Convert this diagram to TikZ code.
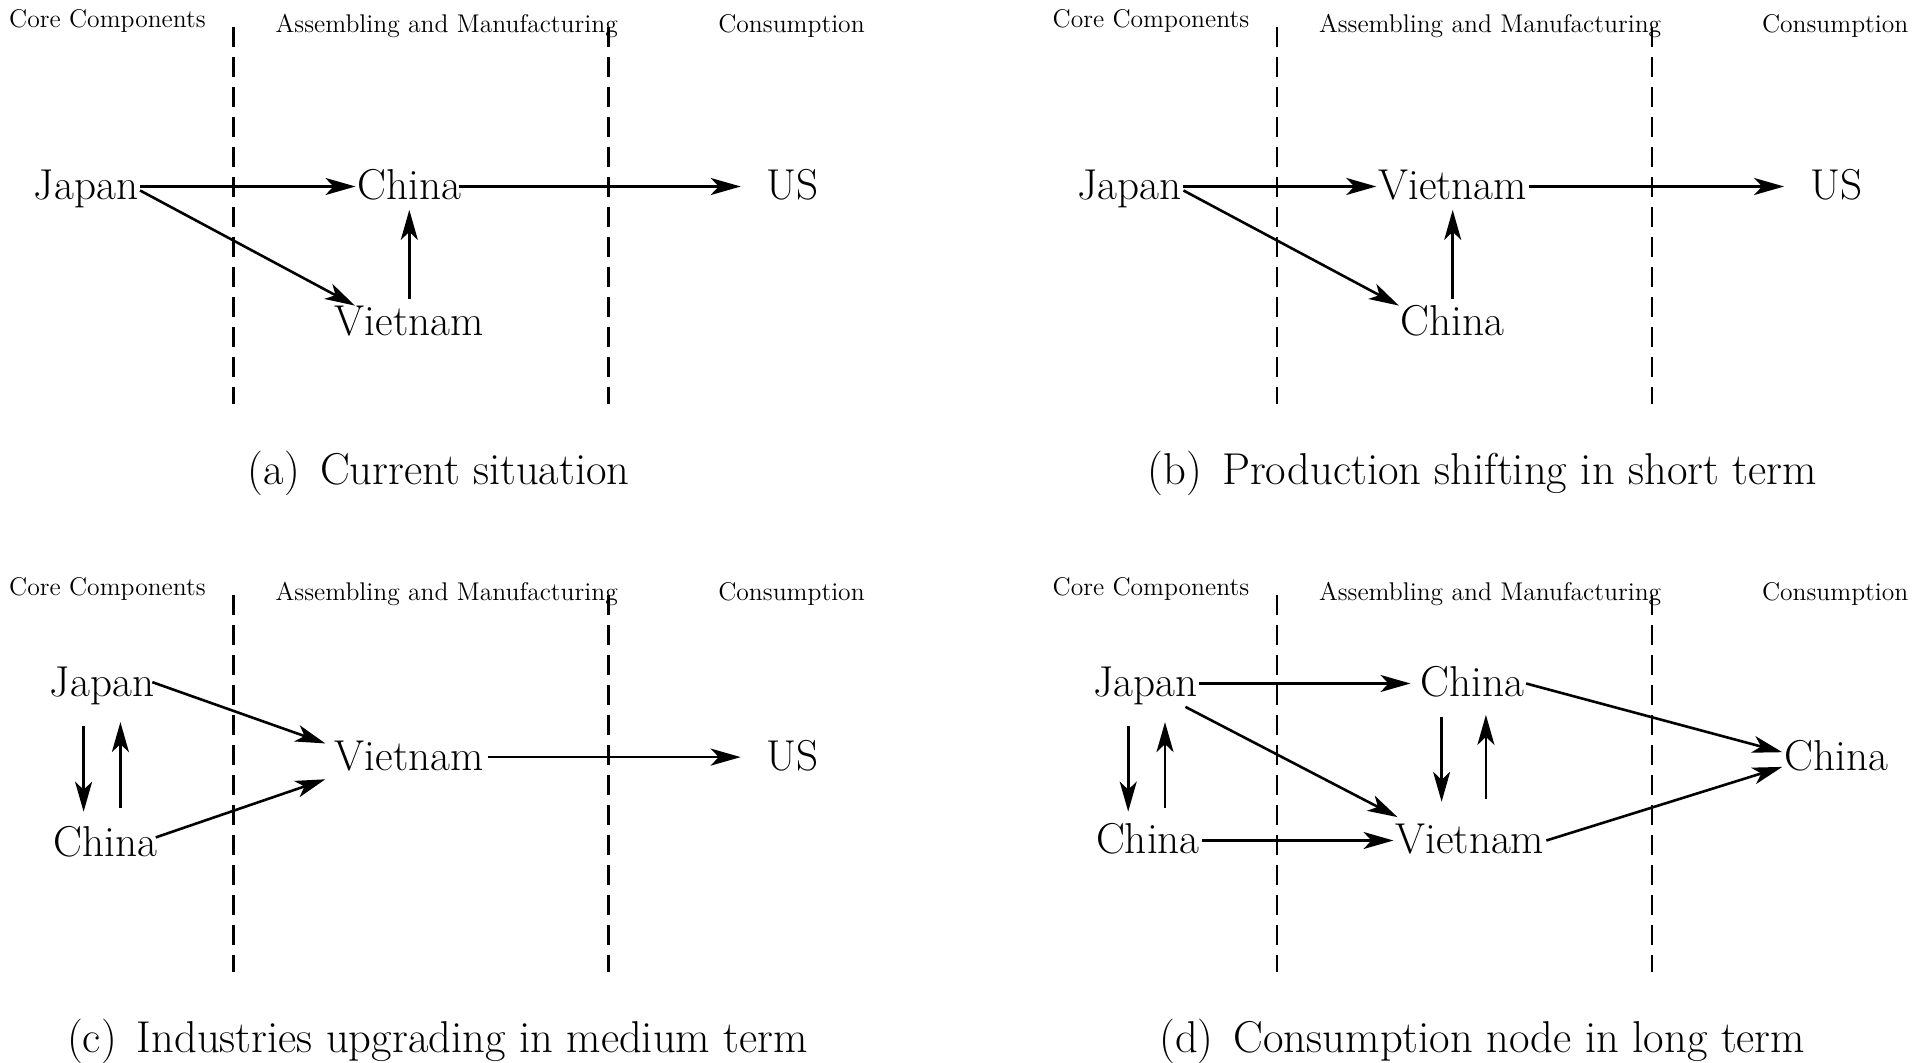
\documentclass[tikz,border=0pt]{standalone}
\usetikzlibrary{arrows.meta}
\tikzset{
  country/.style={font=\fontsize{21.6}{26}\selectfont, inner sep=0pt, outer sep=1pt, text height=17.4pt, text depth=4pt},
  hdr/.style={font=\fontsize{12.8}{15}\selectfont, inner sep=0pt},
  capt/.style={font=\fontsize{22.3}{26}\selectfont, inner sep=0pt},
  divider/.style={dash pattern=on 10pt off 5pt, line width=1.3pt},
  arr/.style={-{Stealth[length=15pt,width=8.5pt,inset=4pt]}, line width=1.3pt},
}
\begin{document}
\begin{tikzpicture}[x=0.5pt,y=-0.5pt]
\useasboundingbox (0,-2.5) rectangle (1927,1060.5);

% ---------- panel (a)
\node[hdr] (ha1) at (107.5,18.4) {Core Components};
\node[hdr] (ha2) at (446.7,23.4) {Assembling and Manufacturing};
\node[hdr] (ha3) at (791.5,23.4) {Consumption};
\draw[divider] (233.5,25) -- (233.5,402);
\draw[divider] (608.5,25) -- (608.5,402);
\node[country] (Ja) at (86,184) {Japan};
\node[country] (Ca) at (409.3,184) {China};
\node[country] (Ua) at (792.7,184) {US};
\node[country] (Va) at (409.3,319.5) {Vietnam};
\node[capt] (capa) at (438.8,470.7) {(a)\hspace{0.45em}Current situation};
\draw[arr] (Ja.east) -- (Ca.west);
\draw[arr,shorten <=-2pt,shorten >=12pt] (Ca.east) -- (Ua.west);
\draw[arr] ([yshift=-2pt]Ja.east) -- ([xshift=11pt,yshift=-3.5pt]Va.north west);
\draw[arr] (Va.north) -- (Ca.south);

% ---------- panel (b)
\node[hdr] (hb1) at (1150.9,18.4) {Core Components};
\node[hdr] (hb2) at (1490.1,23.4) {Assembling and Manufacturing};
\node[hdr] (hb3) at (1835.2,23.4) {Consumption};
\draw[divider] (1277,25) -- (1277,402);
\draw[divider] (1652,25) -- (1652,402);
\node[country] (Jb) at (1129.4,184) {Japan};
\node[country] (Vb) at (1452.7,184) {Vietnam};
\node[country] (Ub) at (1836.1,184) {US};
\node[country] (Cb) at (1452.7,319.5) {China};
\node[capt] (capb) at (1482.2,470.7) {(b)\hspace{0.45em}Production shifting in short term};
\draw[arr] (Jb.east) -- (Vb.west);
\draw[arr,shorten >=12pt] (Vb.east) -- (Ub.west);
\draw[arr] ([yshift=-2pt]Jb.east) -- ([xshift=0pt,yshift=-3.5pt]Cb.north west);
\draw[arr] (Cb.north) -- (Vb.south);

% ---------- panel (c)
\node[hdr] (hc1) at (107.5,586.2) {Core Components};
\node[hdr] (hc2) at (446.7,591.2) {Assembling and Manufacturing};
\node[hdr] (hc3) at (791.5,591.2) {Consumption};
\draw[divider] (233.5,592.8) -- (233.5,969.8);
\draw[divider] (608.5,592.8) -- (608.5,969.8);
\node[country] (Jc) at (102,681) {Japan};
\node[country] (Cc) at (105.7,840.6) {China};
\node[country] (Vc) at (409.3,754.6) {Vietnam};
\node[country] (Uc) at (792.7,754.6) {US};
\node[capt] (capc) at (437.5,1039) {(c)\hspace{0.45em}Industries upgrading in medium term};
\draw[arr,shorten <=-2pt,shorten >=4pt] (Jc.east) -- ([yshift=5.5pt]Vc.west);
\draw[arr,shorten <=-2pt,shorten >=4pt] ([yshift=3.5pt]Cc.east) -- ([yshift=-9.8pt]Vc.west);
\draw[arr,shorten <=1pt,shorten >=12pt] (Vc.east) -- (Uc.west);
\draw[arr,shorten <=9.5pt,shorten >=4pt] ([xshift=-9.2pt]Jc.south) -- ([xshift=-9.2pt]Jc.south |- Cc.north);
\draw[arr,shorten <=5.9pt,shorten >=7.6pt] ([xshift=9.2pt]Jc.south |- Cc.north) -- ([xshift=9.2pt]Jc.south);

% ---------- panel (d)
\node[hdr] (hd1) at (1150.9,586.2) {Core Components};
\node[hdr] (hd2) at (1490.1,591.2) {Assembling and Manufacturing};
\node[hdr] (hd3) at (1835.2,591.2) {Consumption};
\draw[divider] (1277,592.8) -- (1277,969.8);
\draw[divider] (1652,592.8) -- (1652,969.8);
\node[country] (Jd) at (1145.4,681) {Japan};
\node[country] (CLd) at (1147.9,838) {China};
\node[country] (CMd) at (1472.3,681) {China};
\node[country] (Vd) at (1469.9,838) {Vietnam};
\node[country] (CRd) at (1836.1,754.6) {China};
\node[capt] (capd) at (1482.2,1039) {(d)\hspace{0.45em}Consumption node in long term};
\draw[arr,shorten >=4pt] (Jd.east) -- (CMd.west);
\draw[arr] ([xshift=-7pt]Jd.south east) -- ([xshift=2pt]Vd.north west);
\draw[arr] (CLd.east) -- (Vd.west);
\draw[arr,shorten <=9.5pt,shorten >=2.75pt] ([xshift=-8.6pt]Jd.south) -- ([xshift=-8.6pt]Jd.south |- CLd.north);
\draw[arr,shorten <=4.6pt,shorten >=7.6pt] ([xshift=9.8pt]Jd.south |- CLd.north) -- ([xshift=9.8pt]Jd.south);
\draw[arr,shorten <=5.2pt,shorten >=7.65pt] ([xshift=-15.35pt]CMd.south) -- ([xshift=-15.35pt]CMd.south |- Vd.north);
\draw[arr,shorten <=8.85pt,shorten >=4pt] ([xshift=6.8pt]CMd.south |- Vd.north) -- ([xshift=6.8pt]CMd.south);
\draw[arr] (CMd.east) -- ([yshift=2.45pt]CRd.west);
\draw[arr] (Vd.east) -- ([yshift=-4.9pt]CRd.west);
\end{tikzpicture}
\end{document}
